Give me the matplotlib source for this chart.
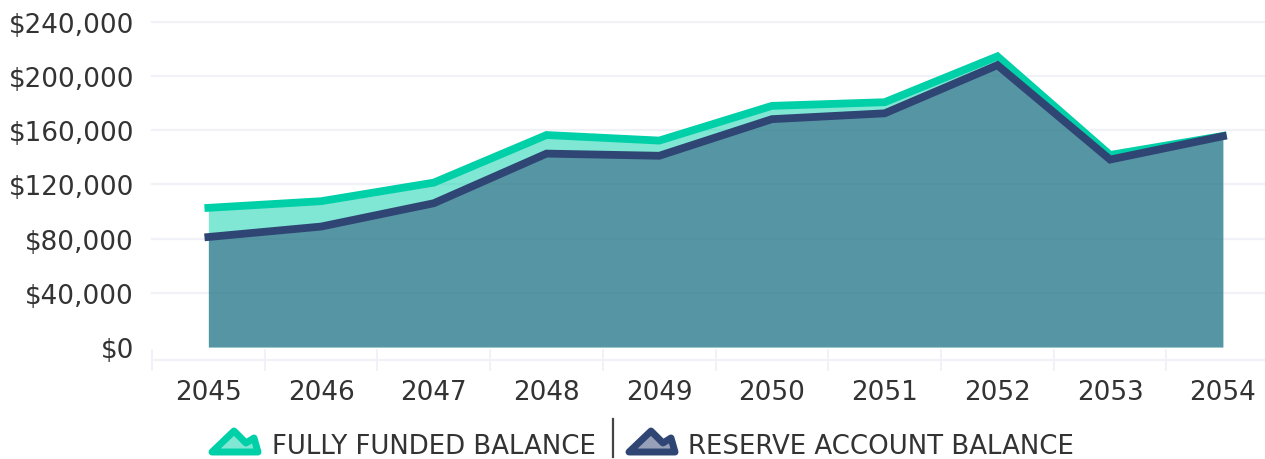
import numpy as np
import matplotlib.pyplot as plt
from matplotlib.patches import Polygon
from matplotlib.ticker import FuncFormatter

years = [2045, 2046, 2047, 2048, 2049, 2050, 2051, 2052, 2053, 2054]
fully_funded = [102600, 107500, 121200, 156300, 152200, 177800, 180500, 214300, 141600, 155600]
reserve = [81100, 88800, 106000, 142600, 141000, 168000, 172300, 207800, 138200, 155400]
y_ticks = [0, 40000, 80000, 120000, 160000, 200000, 240000]

GREEN = '#00d0a8'
NAVY = '#2f4574'
GRID = '#f0f2f8'
TEXT = '#333333'
W, H = 1265, 460
FS = 18.9
LEG_FS = 18.75

plt.rcParams['font.family'] = 'DejaVu Sans'

fig = plt.figure(figsize=(W / 100, H / 100), dpi=100)
ax = fig.add_axes([152 / W, (H - 361) / H, (W - 152) / W, (361 - 22.5) / H])

x = np.arange(len(years))
ax.fill_between(x, 0, fully_funded, color=GREEN, alpha=0.5, lw=0)
ax.fill_between(x, 0, reserve, color=NAVY, alpha=0.5, lw=0)
ax.plot(x, fully_funded, color=GREEN, lw=5.6, solid_capstyle='projecting', solid_joinstyle='miter', clip_on=False)
ax.plot(x, reserve, color=NAVY, lw=5.6, solid_capstyle='projecting', solid_joinstyle='miter', clip_on=False)

ax.set_yticks(y_ticks)
ax.yaxis.set_major_formatter(FuncFormatter(lambda v, p: f'${v:,.0f}'))
ax.set_xticks(x)
ax.set_xticklabels(years)
ax.set_xticks(np.append(x - 0.5, 9.5), minor=True)
ax.set_xlim(-0.5, 9.374)
ax.set_ylim(-9585, 240000)

ax.tick_params(axis='y', length=0, pad=13, labelsize=FS, labelcolor=TEXT)
ax.tick_params(axis='x', which='major', length=0, pad=14, labelsize=FS, labelcolor=TEXT)
ax.tick_params(axis='x', which='minor', direction='inout', length=15.5, width=1.4, color=GRID)

ax.yaxis.grid(True, color=GRID, lw=1.6)
ax.set_axisbelow(True)
for g in ax.get_ygridlines():
    g.set_clip_on(False)
ax.get_ygridlines()[0].set_visible(False)  # no line at $0

for s in ['top', 'right', 'left']:
    ax.spines[s].set_visible(False)
ax.spines['bottom'].set_color(GRID)
ax.spines['bottom'].set_linewidth(1.6)

# legend is drawn on a pixel overlay so the little mountains line up
leg = fig.add_axes([0, 0, 1, 1], facecolor='none')
leg.set_xlim(0, W)
leg.set_ylim(H, 0)
leg.axis('off')


def mountain(x0, color):
    outline = [(x0 + 4, 453), (x0 + 26, 432), (x0 + 38, 444), (x0 + 46, 439), (x0 + 50, 453)]
    inner = [(x0 + 6, 452), (x0 + 26, 433), (x0 + 38, 445), (x0 + 46, 440), (x0 + 49, 452)]
    leg.add_patch(Polygon(inner, closed=True, facecolor=color, alpha=0.5, lw=0))
    leg.add_patch(Polygon(outline, closed=True, fill=False, edgecolor=color, lw=5, joinstyle='round'))


mountain(208, GREEN)
leg.text(272, 447, 'FULLY FUNDED BALANCE', fontsize=LEG_FS, color=TEXT, va='center', ha='left')
leg.plot([613, 613], [420, 458], color='#444444', lw=1.6)
mountain(625, NAVY)
leg.text(688, 447, 'RESERVE ACCOUNT BALANCE', fontsize=LEG_FS, color=TEXT, va='center', ha='left')

fig.savefig('out.png', dpi=100)
